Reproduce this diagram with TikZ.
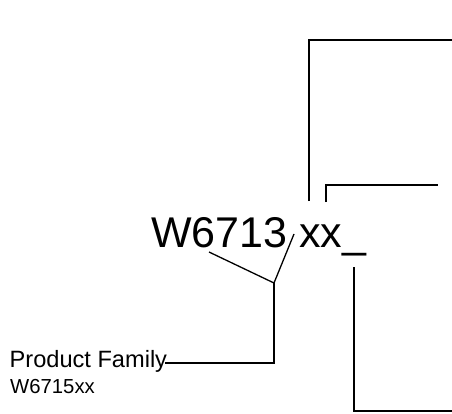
\documentclass[tikz,border=0pt]{standalone}
\usepackage{fontspec}
\setmainfont{Liberation Sans}
\begin{document}
\begin{tikzpicture}[x=1pt,y=-1pt,
  lbl/.style={inner sep=0pt,anchor=base west},
  conn/.style={draw=black,line width=1.3pt}]
\useasboundingbox (0,0) rectangle (452,414);
\node[lbl,font=\fontsize{43}{48}\selectfont] (code) at (151,247) {W6713 xx\_};
\node[lbl,font=\fontsize{23.6}{26}\selectfont] (fam) at (9.5,367) {Product Family};
\node[lbl,font=\fontsize{20.3}{23}\selectfont] (famval) at (10,393) {W6715xx};
\coordinate (a1) at (209,252);
\coordinate (a2) at (294,234);
\coordinate (j) at (274,283);
\coordinate (f) at (165,363);
\draw[conn] (a1) -- (j) -- (a2);
\draw[conn] (j) -- (274,363) -- (f);
\coordinate (b1) at (309,201);
\coordinate (b2) at (452,40);
\draw[conn] (b1) |- (b2);
\coordinate (c1) at (326,202);
\coordinate (c2) at (438,185);
\draw[conn] (c1) |- (c2);
\coordinate (d1) at (354,267);
\coordinate (d2) at (452,411);
\draw[conn] (d1) |- (d2);
\end{tikzpicture}
\end{document}
